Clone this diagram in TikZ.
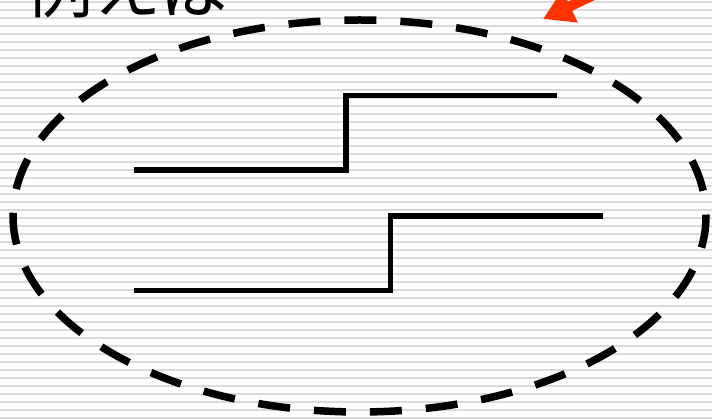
\documentclass[tikz,border=0pt]{standalone}
\usepackage{fontspec}
\newfontfamily\jpfont{Noto Sans CJK JP}
\usetikzlibrary{arrows.meta}
\definecolor{stripegray}{RGB}{218,218,218}
\definecolor{myorange}{RGB}{255,51,0}
\tikzset{stepline/.style={line width=5.5pt},
  ringline/.style={line width=7.5pt,dash pattern=on 32pt off 24pt}}

\begin{document}
\begin{tikzpicture}[x=1pt,y=-1pt]
\useasboundingbox (0,0) rectangle (712,419);
\clip (0,0) rectangle (712,419);
\fill[white] (0,0) rectangle (712,419);
% striped background
\foreach \k in {0,...,52}{\draw[stripegray,line width=2pt] (0,1.7+8*\k) -- (712,1.7+8*\k);}
\node[anchor=base west,inner sep=0pt,font=\jpfont\fontsize{68}{68}\selectfont] (title) at (25,13) {例えば};
% pointer
\coordinate (arrtail) at (630,-22);
\coordinate (arrtip) at (543,19);
\draw[myorange,line width=10pt,-{Triangle[length=30pt,width=34pt]}] (arrtail) -- (arrtip);
% dashed ring
\draw[ringline] (359.5,216) ellipse [x radius=346.5,y radius=196];
% upper step
\coordinate (a1) at (134,170);
\coordinate (a2) at (346,170);
\coordinate (a3) at (346,95.5);
\coordinate (a4) at (557,95.5);
\draw[stepline] (a1) -- (a2) -- (a3) -- (a4);
% lower step
\coordinate (b1) at (134,290.5);
\coordinate (b2) at (390.5,290.5);
\coordinate (b3) at (390.5,216);
\coordinate (b4) at (603,216);
\draw[stepline] (b1) -- (b2) -- (b3) -- (b4);
\end{tikzpicture}
\end{document}
